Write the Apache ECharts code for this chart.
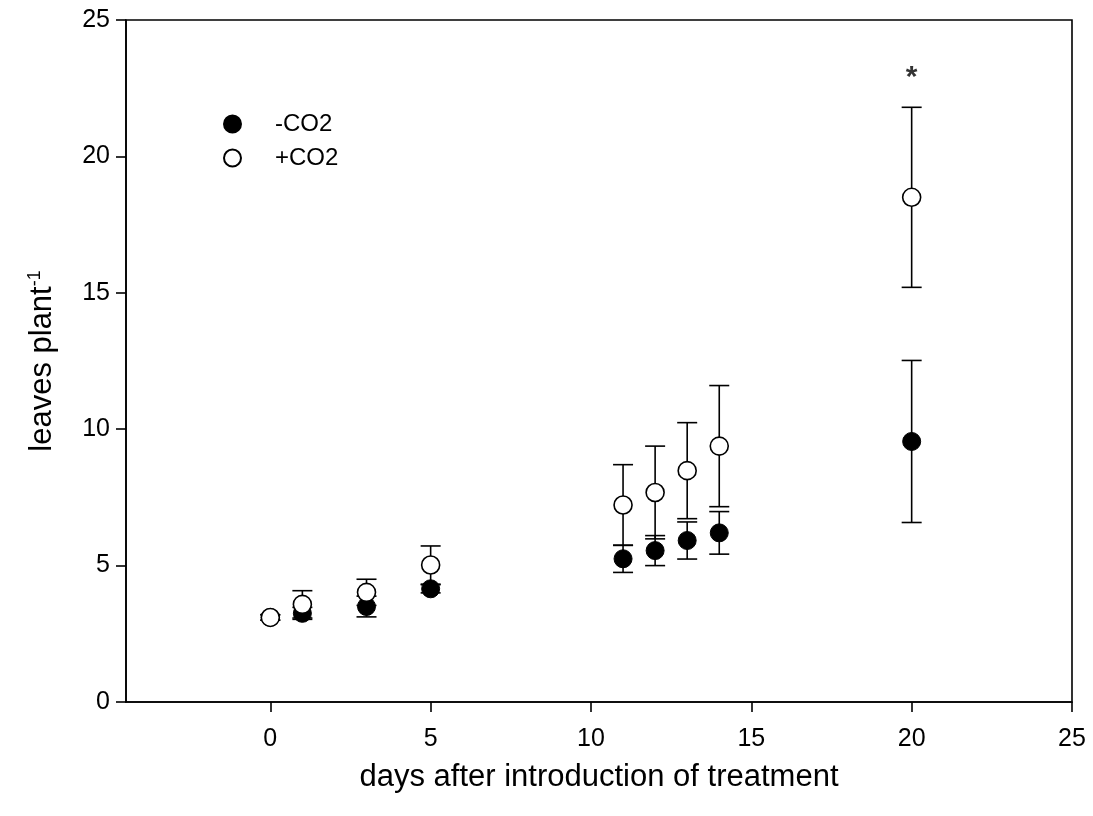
<!DOCTYPE html>
<html>
<head>
<meta charset="utf-8">
<script src="https://cdn.jsdelivr.net/npm/echarts@6/dist/echarts.min.js"></script>
<style>
  html, body { margin: 0; padding: 0; background: #fff; }
  #chart { width: 1093px; height: 816px; }
</style>
</head>
<body>
<div id="chart"></div>
<script>
// days after treatment
const days = [0, 1, 3, 5, 11, 12, 13, 14, 20]
// -CO2 (filled) mean and error
const minusMean = [3.1, 3.25, 3.5, 4.15, 5.25, 5.55, 5.92, 6.2, 9.55]
const minusErr = [0.1, 0.22, 0.38, 0.15, 0.5, 0.55, 0.68, 0.78, 2.97]
// +CO2 (open) mean and error
const plusMean = [3.1, 3.58, 4.02, 5.02, 7.22, 7.68, 8.48, 9.38, 18.5]
const plusErr = [0.1, 0.5, 0.48, 0.7, 1.48, 1.7, 1.76, 2.22, 3.3]
// significance marker
const sigDays = [20]
const sigY = [22.9]
const xTicks = [0, 5, 10, 15, 20, 25]

const font = '"Liberation Sans", Arial, sans-serif'

function errData(means, errs) {
  return days.map((d, i) => [d, means[i] - errs[i], means[i] + errs[i]])
}

function renderErr(params, api) {
  const x = api.value(0)
  const lo = api.coord([x, api.value(1)])
  const hi = api.coord([x, api.value(2)])
  const cap = 10
  const style = { stroke: '#000', lineWidth: 1.6 }
  return {
    type: 'group',
    children: [
      { type: 'line', shape: { x1: lo[0], y1: lo[1], x2: hi[0], y2: hi[1] }, style },
      { type: 'line', shape: { x1: lo[0] - cap, y1: lo[1], x2: lo[0] + cap, y2: lo[1] }, style },
      { type: 'line', shape: { x1: hi[0] - cap, y1: hi[1], x2: hi[0] + cap, y2: hi[1] }, style },
    ],
  }
}

const chart = echarts.init(document.getElementById('chart'))

const option = {
  animation: false,
  backgroundColor: '#fff',
  textStyle: { fontFamily: font, color: '#000' },
  grid: {
    left: 126, top: 20, width: 946, height: 682,
    show: true, borderColor: '#000', borderWidth: 1.6, backgroundColor: 'transparent',
  },
  legend: {
    orient: 'vertical',
    left: 218,
    top: 107,
    itemWidth: 17,
    itemHeight: 17,
    itemGap: 10,
    icon: 'circle',
    formatter: name => '{t|' + name + '}',
    textStyle: {
      fontSize: 24, color: '#000', fontFamily: font,
      rich: { t: { fontSize: 24, color: '#000', fontFamily: font, padding: [0, 0, 0, 29] } },
    },
    data: ['-CO2', '+CO2'],
  },
  xAxis: {
    type: 'value',
    min: -4.5,
    max: 25,
    name: 'days after introduction of treatment',
    nameLocation: 'middle',
    nameGap: 60,
    nameTextStyle: { fontSize: 31, color: '#000', fontFamily: font },
    splitLine: { show: false },
    axisLine: { show: true, onZero: false, lineStyle: { color: '#000', width: 1.6 } },
    axisTick: { show: true, length: 10, customValues: xTicks, lineStyle: { color: '#000', width: 1.6 } },
    axisLabel: { customValues: xTicks, fontSize: 25, color: '#000', margin: 25, fontFamily: font },
  },
  yAxis: {
    type: 'value',
    min: 0,
    max: 25,
    interval: 5,
    name: '{a|leaves plant}{s|-1}',
    nameLocation: 'middle',
    nameRotate: 90,
    nameGap: 68,
    nameTextStyle: {
      fontFamily: font,
      rich: {
        a: { fontSize: 31, color: '#000', fontFamily: font },
        s: { fontSize: 18, color: '#000', fontFamily: font, verticalAlign: 'top', padding: [0, 0, 14, 0] },
      },
    },
    splitLine: { show: false },
    axisLine: { show: true, onZero: false, lineStyle: { color: '#000', width: 1.6 } },
    axisTick: { show: true, length: 10, lineStyle: { color: '#000', width: 1.6 } },
    axisLabel: { fontSize: 25, color: '#000', margin: 16, fontFamily: font },
  },
  series: [
    {
      type: 'custom',
      name: 'err-',
      renderItem: renderErr,
      data: errData(minusMean, minusErr),
      encode: { x: 0, y: [1, 2] },
      z: 2,
    },
    {
      type: 'scatter',
      name: '-CO2',
      symbol: 'circle',
      symbolSize: 18,
      itemStyle: { color: '#000', borderColor: '#000', borderWidth: 1, opacity: 1 },
      data: days.map((d, i) => [d, minusMean[i]]),
      z: 3,
    },
    {
      type: 'custom',
      name: 'err+',
      renderItem: renderErr,
      data: errData(plusMean, plusErr),
      encode: { x: 0, y: [1, 2] },
      z: 4,
    },
    {
      type: 'scatter',
      name: '+CO2',
      symbol: 'circle',
      symbolSize: 18,
      itemStyle: { color: '#fff', borderColor: '#000', borderWidth: 1.6, opacity: 1 },
      data: days.map((d, i) => [d, plusMean[i]]),
      z: 5,
    },
    {
      type: 'scatter',
      name: 'sig',
      symbolSize: 0,
      silent: true,
      data: sigDays.map((d, i) => [d, sigY[i]]),
      label: {
        show: true,
        position: 'inside',
        formatter: '*',
        fontSize: 30,
        fontWeight: 'bold',
        color: '#000',
        fontFamily: font,
      },
      z: 6,
    },
  ],
}

chart.setOption(option)
</script>
</body>
</html>
